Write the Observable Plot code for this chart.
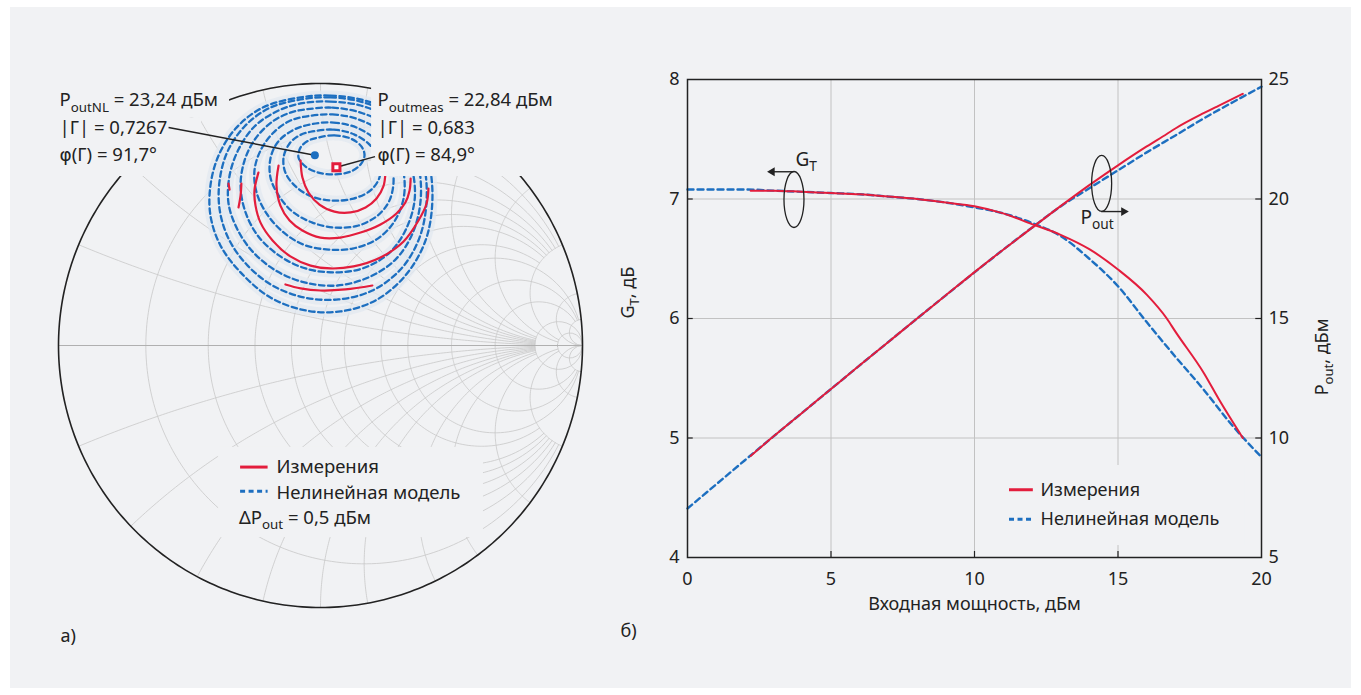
<!DOCTYPE html>
<html><head><meta charset="utf-8">
<script src="https://cdn.jsdelivr.net/npm/d3@7"></script>
<script src="https://cdn.jsdelivr.net/npm/@observablehq/plot@0.6"></script>
<style>
html,body{margin:0;padding:0;background:#fff;}
#page{position:relative;width:1361px;height:695px;overflow:hidden;font-family:"Noto Sans",sans-serif;}
#bg{position:absolute;left:10px;top:7px;width:1341px;height:681px;background:#f1f2f4;}
#smith{position:absolute;left:0;top:0;width:600px;height:660px;}
#gain{position:absolute;left:600px;top:0;width:761px;height:695px;}
</style></head><body>
<div id="page"><div id="bg"></div><div id="smith"></div><div id="gain"></div></div>
<script>
// ---------- Smith chart grid values ----------
const rGrid = [0.2, 0.4, 0.6, 0.8, 1, 1.2, 1.6, 2, 3, 5, 10, 20];
const rGridXmax = [5, 5, 5, 5, 5, 5, 5, 20, 20, 20, 1e4, 1e4];
const xGrid = [0.2, 0.4, 0.6, 0.8, 1, 1.2, 1.6, 2, 3, 5, 10, 20];
const xGridRmax = [10, 10, 10, 10, 10, 10, 10, 10, 20, 20, 1e4, 1e4];

// ---------- load-pull contours (Γ plane: re, im) ----------
const model1 = [[-0.008,0.794],[0.053,0.802],[0.115,0.790],[0.156,0.760],[0.168,0.725],[0.153,0.691],[0.115,0.664],[0.057,0.653],[-0.008,0.660],[-0.057,0.683],[-0.084,0.718],[-0.076,0.756],[-0.046,0.782]];
const model2 = [[-0.031,0.817],[0.050,0.824],[0.130,0.805],[0.191,0.763],[0.225,0.706],[0.225,0.641],[0.191,0.592],[0.126,0.561],[0.046,0.553],[-0.034,0.569],[-0.095,0.607],[-0.134,0.660],[-0.141,0.718],[-0.118,0.771],[-0.080,0.802]];
const model3 = [[-0.038,0.844],[0.050,0.851],[0.137,0.832],[0.210,0.786],[0.260,0.718],[0.279,0.637],[0.263,0.553],[0.218,0.496],[0.145,0.458],[0.057,0.450],[-0.031,0.469],[-0.107,0.511],[-0.160,0.573],[-0.191,0.641],[-0.191,0.714],[-0.164,0.775],[-0.107,0.821]];
const model4 = [[-0.057,0.874],[0.046,0.882],[0.145,0.863],[0.229,0.817],[0.286,0.744],[0.317,0.660],[0.317,0.561],[0.279,0.469],[0.214,0.405],[0.122,0.370],[0.031,0.366],[-0.065,0.385],[-0.145,0.435],[-0.206,0.504],[-0.244,0.584],[-0.252,0.668],[-0.229,0.744],[-0.183,0.809],[-0.122,0.855]];
const model5 = [[-0.057,0.901],[0.046,0.908],[0.153,0.889],[0.248,0.844],[0.313,0.767],[0.351,0.668],[0.359,0.553],[0.324,0.439],[0.260,0.351],[0.160,0.294],[0.050,0.279],[-0.057,0.294],[-0.153,0.340],[-0.237,0.416],[-0.286,0.508],[-0.305,0.607],[-0.290,0.706],[-0.248,0.790],[-0.183,0.855],[-0.115,0.889]];
const model6 = [[-0.076,0.924],[0.038,0.931],[0.153,0.916],[0.260,0.870],[0.332,0.794],[0.374,0.687],[0.382,0.553],[0.351,0.427],[0.286,0.328],[0.183,0.260],[0.065,0.229],[-0.057,0.240],[-0.164,0.282],[-0.256,0.355],[-0.317,0.443],[-0.351,0.542],[-0.347,0.649],[-0.313,0.748],[-0.252,0.836],[-0.168,0.893]];
const model7 = [[-0.076,0.939],[0.038,0.947],[0.153,0.931],[0.263,0.885],[0.347,0.809],[0.393,0.698],[0.405,0.553],[0.378,0.412],[0.309,0.294],[0.198,0.210],[0.069,0.176],[-0.061,0.183],[-0.183,0.229],[-0.282,0.309],[-0.351,0.408],[-0.385,0.519],[-0.385,0.630],[-0.355,0.740],[-0.290,0.836],[-0.198,0.905]];
const model8 = [[-0.076,0.947],[0.038,0.954],[0.153,0.939],[0.267,0.897],[0.363,0.821],[0.412,0.706],[0.427,0.553],[0.401,0.401],[0.324,0.267],[0.210,0.172],[0.076,0.130],[-0.057,0.134],[-0.191,0.183],[-0.305,0.279],[-0.382,0.382],[-0.420,0.496],[-0.420,0.611],[-0.389,0.725],[-0.324,0.828],[-0.221,0.908]];

const meas1 = [[-0.076,0.706],[-0.069,0.641],[-0.046,0.584],[-0.004,0.538],[0.053,0.511],[0.115,0.508],[0.172,0.527],[0.214,0.561],[0.240,0.607],[0.248,0.660]];
const meas2 = [[-0.160,0.687],[-0.168,0.611],[-0.153,0.534],[-0.118,0.477],[-0.069,0.439],[0.000,0.412],[0.076,0.412],[0.153,0.431],[0.229,0.462],[0.290,0.504],[0.324,0.546],[0.340,0.592],[0.344,0.637]];
const meas3 = [[-0.237,0.660],[-0.252,0.592],[-0.248,0.534],[-0.229,0.469],[-0.183,0.401],[-0.115,0.340],[-0.038,0.305],[0.038,0.294],[0.126,0.302],[0.229,0.336],[0.317,0.397],[0.374,0.477],[0.405,0.542],[0.412,0.599]];
const meas4 = [[-0.134,0.233],[-0.076,0.218],[0.000,0.210],[0.095,0.214],[0.198,0.229]];
const meas5 = [[-0.302,0.618],[-0.305,0.573],[-0.313,0.527]];
const meas6 = [[-0.351,0.618],[-0.347,0.595]];

const optModel = {mag: 0.7267, ang: 91.7, pout: 23.24};
const optMeas = {mag: 0.683, ang: 84.9, pout: 22.84};
const deltaPout = 0.5;

// ---------- G_T / P_out vs input power ----------
const pinModel  = [0, 1, 2, 3, 4, 5, 6, 7, 8, 9, 10, 11, 12, 13, 14, 15, 16, 17, 18, 19, 20];
const gtModel   = [7.08, 7.08, 7.08, 7.07, 7.06, 7.05, 7.04, 7.02, 7.00, 6.97, 6.93, 6.88, 6.80, 6.69, 6.50, 6.27, 5.97, 5.68, 5.40, 5.10, 4.84];
const poutModel = [7.05, 8.06, 9.07, 10.07, 11.06, 12.05, 13.04, 14.02, 15.00, 15.97, 16.93, 17.88, 18.80, 19.69, 20.45, 21.20, 21.95, 22.66, 23.38, 24.05, 24.70];
const pinMeas   = [2.2, 3, 4, 5, 6, 7, 8, 9, 10, 11, 12, 13, 14, 15, 16, 16.7, 17, 18, 18.5, 19.35];
const gtMeas    = [7.07, 7.07, 7.06, 7.05, 7.04, 7.02, 7.00, 6.97, 6.94, 6.88, 6.79, 6.70, 6.58, 6.41, 6.20, 6.00, 5.89, 5.54, 5.33, 5.00];
const poutMeas  = [9.25, 10.07, 11.06, 12.05, 13.04, 14.02, 15.00, 15.97, 16.94, 17.88, 18.79, 19.70, 20.58, 21.41, 22.20, 22.72, 22.95, 23.60, 23.90, 24.40];
const pinTicks  = [0, 5, 10, 15, 20];
const gtTicks   = [4, 5, 6, 7, 8];
const poutTicks = [5, 10, 15, 20, 25];

const legendLabels = ["Измерения", "Нелинейная модель"];

// ---------- styling ----------
const RED = "#e31d3c", BLUE = "#1d6fc0", GRID = "#c8c8c8", INK = "#222", BG = "#f1f2f4";
const FONT = "'Noto Sans', sans-serif";
const comma = v => String(v).replace(".", ",");

// ---------- derived tables ----------
function gam(r, x) { const d = (r + 1) * (r + 1) + x * x; return [(r * r - 1 + x * x) / d, 2 * x / d]; }
const gridPts = [];
rGrid.forEach((r, i) => {
  const a = Math.atan(rGridXmax[i]);
  for (let k = 0; k <= 240; k++) { const [re, im] = gam(r, Math.tan(-a + 2 * a * k / 240)); gridPts.push({id: "r" + i, re, im}); }
});
xGrid.forEach((x, i) => {
  const a = Math.atan(xGridRmax[i]);
  for (const s of [1, -1]) for (let k = 0; k <= 160; k++) { const [re, im] = gam(Math.tan(a * k / 160), s * x); gridPts.push({id: "x" + i + "_" + s, re, im}); }
});
const circle = d3.range(0, 361).map(a => ({re: Math.cos(a * Math.PI / 180), im: Math.sin(a * Math.PI / 180)}));
const toPts = list => list.flatMap((c, i) => c.map(([re, im]) => ({re, im, c: i})));
const modelPts = toPts([model1, model2, model3, model4, model5, model6, model7, model8]);
const measPts = toPts([meas1, meas2, meas3, meas4, meas5, meas6]);
const polar = o => ({re: o.mag * Math.cos(o.ang * Math.PI / 180), im: o.mag * Math.sin(o.ang * Math.PI / 180)});
const pM = polar(optModel), pX = polar(optMeas);

const leftLines = [`P_{outNL} = ${comma(optModel.pout)} дБм`, `|Γ| = ${comma(optModel.mag)}`, `φ(Γ) = ${comma(optModel.ang)}°`];
const rightLines = [`P_{outmeas} = ${comma(optMeas.pout)} дБм`, `|Γ| = ${comma(optMeas.mag)}`, `φ(Γ) = ${comma(optMeas.ang)}°`];
const rowsY = [0.935, 0.830, 0.725];

const smith = Plot.plot({
  width: 600, height: 660, marginLeft: 58, marginRight: 18, marginTop: 83, marginBottom: 53,
  x: {domain: [-1, 1], axis: null}, y: {domain: [-1, 1], axis: null},
  style: {background: "none", overflow: "visible", fontFamily: FONT, fontSize: "18px", color: INK},
  marks: [
    Plot.line(gridPts, {x: "re", y: "im", z: "id", stroke: GRID, strokeWidth: 0.8}),
    Plot.ruleY([0], {x1: -1, x2: 1, stroke: "#b0b0b0", strokeWidth: 1.1}),
    Plot.line(modelPts, {x: "re", y: "im", z: "c", curve: "catmull-rom-closed", stroke: "#e2e8f0", strokeWidth: 10, strokeOpacity: 0.75}),
    Plot.line(modelPts, {x: "re", y: "im", z: "c", curve: "catmull-rom-closed", stroke: BLUE, strokeWidth: 2.3, strokeDasharray: "5.5,3.5"}),
    Plot.line(measPts, {x: "re", y: "im", z: "c", curve: "catmull-rom", stroke: RED, strokeWidth: 2.2}),
    Plot.line(circle, {x: "re", y: "im", stroke: INK, strokeWidth: 1.6}),
    Plot.rect([
      {x1: -1.03, x2: -0.347, y1: 1.0, y2: 0.870},
      {x1: -1.03, x2: -0.454, y1: 0.870, y2: 0.645},
      {x1: 0.195, x2: 0.93, y1: 1.0, y2: 0.645},
      {x1: -0.389, x2: 0.622, y1: -0.389, y2: -0.733}
    ], {x1: "x1", x2: "x2", y1: "y1", y2: "y2", fill: BG}),
    Plot.link([{x1: -0.580, y1: 0.832, x2: pM.re, y2: pM.im}, {x1: 0.208, y1: 0.721, x2: pX.re, y2: pX.im}],
      {x1: "x1", y1: "y1", x2: "x2", y2: "y2", stroke: INK, strokeWidth: 1.4}),
    Plot.dot([pM], {x: "re", y: "im", r: 4, fill: BLUE}),
    Plot.dot([pX], {x: "re", y: "im", r: 4, symbol: "square", fill: "#fff", stroke: RED, strokeWidth: 3}),
    Plot.text(leftLines, {x: -0.996, y: (d, i) => rowsY[i], textAnchor: "start", fill: INK, fontSize: 18.5}),
    Plot.text(rightLines, {x: 0.218, y: (d, i) => rowsY[i], textAnchor: "start", fill: INK, fontSize: 18.5}),
    Plot.ruleY([-0.464], {x1: -0.305, x2: -0.200, stroke: RED, strokeWidth: 3}),
    Plot.ruleY([-0.556], {x1: -0.305, x2: -0.200, stroke: BLUE, strokeWidth: 3, strokeDasharray: "5,3.5"}),
    Plot.text([legendLabels[0]], {x: -0.168, y: -0.464, textAnchor: "start", fill: INK, fontSize: 18.5}),
    Plot.text([legendLabels[1]], {x: -0.168, y: -0.563, textAnchor: "start", fill: INK, fontSize: 18.5}),
    Plot.text([`ΔP_{out} = ${comma(deltaPout)} дБм`], {x: -0.311, y: -0.658, textAnchor: "start", fill: INK, fontSize: 18.5}),
    Plot.text(["а)"], {x: -0.992, y: -1.111, textAnchor: "start", fill: INK, fontSize: 18})
  ]
});

// ---------- right chart ----------
const toGT = p => 4 + (p - 5) / 5;
const fromGT = g => 5 + (g - 4) * 5;
const rows = (xs, ys) => xs.map((x, i) => ({x, y: ys[i]}));
const gtM = rows(pinModel, gtModel), gtX = rows(pinMeas, gtMeas);
const poM = rows(pinModel, poutModel.map(toGT)), poX = rows(pinMeas, poutMeas.map(toGT));

function ellipse(rx, ry) {
  const k = 0.5523;
  return {draw(ctx) {
    ctx.moveTo(0, -ry);
    ctx.bezierCurveTo(k * rx, -ry, rx, -k * ry, rx, 0);
    ctx.bezierCurveTo(rx, k * ry, k * rx, ry, 0, ry);
    ctx.bezierCurveTo(-k * rx, ry, -rx, k * ry, -rx, 0);
    ctx.bezierCurveTo(-rx, -k * ry, -k * rx, -ry, 0, -ry);
    ctx.closePath();
  }};
}

const gain = Plot.plot({
  width: 761, height: 695, marginLeft: 87, marginRight: 100, marginTop: 79, marginBottom: 138,
  x: {domain: [0, 20]}, y: {domain: [4, 8]},
  style: {background: "none", overflow: "visible", fontFamily: FONT, fontSize: "18px", color: INK},
  marks: [
    Plot.gridX(pinTicks.slice(1, -1), {stroke: "#c2c2c2", strokeOpacity: 1, strokeWidth: 1}),
    Plot.gridY(gtTicks.slice(1, -1), {stroke: "#c2c2c2", strokeOpacity: 1, strokeWidth: 1}),
    Plot.rect([0], {x1: 10.38, x2: 19.44, y1: 4.10, y2: 4.77, fill: BG}),
    Plot.line(gtM, {x: "x", y: "y", curve: "monotone-x", stroke: BLUE, strokeWidth: 2.4, strokeDasharray: "6,4"}),
    Plot.line(poM, {x: "x", y: "y", curve: "monotone-x", stroke: BLUE, strokeWidth: 2.4, strokeDasharray: "6,4"}),
    Plot.line(gtX, {x: "x", y: "y", curve: "monotone-x", stroke: RED, strokeWidth: 2}),
    Plot.line(poX, {x: "x", y: "y", curve: "monotone-x", stroke: RED, strokeWidth: 2}),
    Plot.ruleY(gtTicks.slice(1, -1), {x1: 0, x2: 0.2, stroke: INK, strokeWidth: 1.2}),
    Plot.ruleY(gtTicks.slice(1, -1), {x1: 19.8, x2: 20, stroke: INK, strokeWidth: 1.2}),
    Plot.ruleX(pinTicks.slice(1, -1), {y1: 4, y2: 4.05, stroke: INK, strokeWidth: 1.2}),
    Plot.frame({stroke: INK, strokeWidth: 1.5}),
    Plot.axisY({anchor: "left", ticks: gtTicks, tickFormat: d => String(d), tickSize: 0, tickPadding: 8, fontSize: 18, label: null}),
    Plot.axisY({anchor: "right", ticks: poutTicks.map(toGT), tickFormat: d => String(Math.round(fromGT(d))), tickSize: 0, tickPadding: 7, fontSize: 18, label: null}),
    Plot.axisX({ticks: pinTicks, tickFormat: d => String(d), tickSize: 0, tickPadding: 15, fontSize: 18, label: null}),
    // annotations
    Plot.dot([0], {x: 3.71, y: 6.996, symbol: ellipse(10, 28), fill: "none", stroke: INK, strokeWidth: 1.3}),
    Plot.dot([0], {x: 14.43, y: 7.13, symbol: ellipse(10, 28), fill: "none", stroke: INK, strokeWidth: 1.3}),
    Plot.ruleY([7.228], {x1: 3.71, x2: 3.0, stroke: INK, strokeWidth: 1.4}),
    Plot.dot([0], {x: 2.95, y: 7.228, symbol: "triangle2", r: 4.2, rotate: -90, fill: INK}),
    Plot.ruleY([6.895], {x1: 14.43, x2: 15.15, stroke: INK, strokeWidth: 1.4}),
    Plot.dot([0], {x: 15.2, y: 6.895, symbol: "triangle2", r: 4.2, rotate: 90, fill: INK}),
    Plot.text(["G_{T}"], {x: 3.76, y: 7.33, textAnchor: "start", fill: INK, fontSize: 19}),
    Plot.text(["P_{out}"], {x: 13.69, y: 6.845, textAnchor: "start", fill: INK, fontSize: 19}),
    // legend
    Plot.ruleY([4.567], {x1: 11.22, x2: 12.05, stroke: RED, strokeWidth: 3}),
    Plot.ruleY([4.32], {x1: 11.22, x2: 12.05, stroke: BLUE, strokeWidth: 3, strokeDasharray: "5,3.5"}),
    Plot.text([legendLabels[0]], {x: 12.3, y: 4.567, textAnchor: "start", fill: INK, fontSize: 18}),
    Plot.text([legendLabels[1]], {x: 12.3, y: 4.32, textAnchor: "start", fill: INK, fontSize: 18}),
    // axis titles
    Plot.text(["G_{T}, дБ"], {frameAnchor: "left", dx: -59, rotate: -90, fill: INK, fontSize: 18}),
    Plot.text(["P_{out}, дБм"], {frameAnchor: "right", dx: 61, rotate: -90, fill: INK, fontSize: 18}),
    Plot.text(["Входная мощность, дБм"], {frameAnchor: "bottom", dy: 52, fill: INK, fontSize: 18}),
    Plot.text(["б)"], {frameAnchor: "bottom-left", dx: -67, dy: 79, textAnchor: "start", fill: INK, fontSize: 18})
  ]
});

document.getElementById("smith").appendChild(smith);
document.getElementById("gain").appendChild(gain);

// subscripts "X_{sub}" -> tspan; φ drawn with a font that has the looped form
function applySubs(root) {
  const ns = "http://www.w3.org/2000/svg";
  root.querySelectorAll("text").forEach(t => {
    if (t.children.length) return;
    const s = t.textContent;
    if (!s.includes("_{") && !s.includes("φ")) return;
    const fs = parseFloat(getComputedStyle(t).fontSize) || 18;
    const sh = fs * 0.28;
    t.textContent = "";
    let shifted = false;
    const addText = str => {
      str.split(/(φ)/).forEach(part => {
        if (!part) return;
        const sp = document.createElementNS(ns, "tspan");
        sp.textContent = part;
        if (part === "φ") sp.setAttribute("font-family", "DejaVu Sans");
        if (shifted) { sp.setAttribute("dy", -sh); shifted = false; }
        t.appendChild(sp);
      });
    };
    const re = /_\{([^}]*)\}/g;
    let last = 0, m;
    while ((m = re.exec(s))) {
      if (m.index > last) addText(s.slice(last, m.index));
      const sub = document.createElementNS(ns, "tspan");
      sub.textContent = m[1];
      sub.setAttribute("font-size", (fs * 0.72).toFixed(1));
      sub.setAttribute("dy", sh);
      shifted = true;
      t.appendChild(sub);
      last = re.lastIndex;
    }
    if (last < s.length) addText(s.slice(last));
  });
}
applySubs(smith);
applySubs(gain);
</script></body></html>
